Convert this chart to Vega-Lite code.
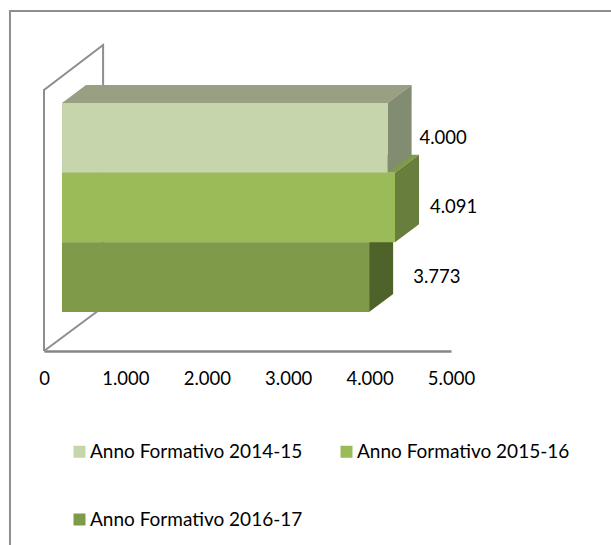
{
  "$schema": "https://vega.github.io/schema/vega-lite/v6.json",
  "width": 407,
  "height": 306,
  "autosize": {"type": "none"},
  "padding": {"left": 44, "top": 45, "right": 160, "bottom": 194},
  "background": "white",
  "config": {"view": {"stroke": null}, "font": "Lato"},
  "datasets": {
    "bars": [
      {"series": "Anno Formativo 2014-15", "value": 4000, "level": 2},
      {"series": "Anno Formativo 2015-16", "value": 4091, "level": 1},
      {"series": "Anno Formativo 2016-17", "value": 3773, "level": 0}
    ],
    "frame": [
      {"part": "wall", "i": 0, "fx": 0, "fy": -0.56},
      {"part": "wall", "i": 1, "fx": 0, "fy": 3.186},
      {"part": "wall", "i": 2, "fx": 726, "fy": 3.832},
      {"part": "wall", "i": 3, "fx": 726, "fy": 0.072},
      {"part": "wall", "i": 4, "fx": 0, "fy": -0.56},
      {"part": "border", "i": 0, "fx": 6974, "fy": 4.32},
      {"part": "border", "i": 1, "fx": -418, "fy": 4.32},
      {"part": "border", "i": 2, "fx": -418, "fy": -3.344}
    ]
  },
  "resolve": {"scale": {"color": "independent"}},
  "layer": [
    {
      "data": {"name": "frame"},
      "mark": {"type": "line", "color": "#8e8e8e", "strokeWidth": 2, "clip": false},
      "encoding": {
        "x": {"field": "fx", "type": "quantitative", "scale": {"domain": [0, 5000], "nice": false, "zero": false},
          "axis": {"values": [0, 1000, 2000, 3000, 4000, 5000], "title": null, "grid": false, "ticks": false, "domainColor": "#868686", "domainWidth": 2.5, "labelFontSize": 18.5, "labelColor": "#000000", "labelPadding": 18, "labelFont": "Lato", "labelFlush": false, "labelOverlap": false, "labelExpr": "replace(format(datum.value, ','), ',', '.')"}},
        "y": {"field": "fy", "type": "quantitative", "scale": {"domain": [-0.56, 3.832], "nice": false, "zero": false}, "axis": null},
        "detail": {"field": "part"},
        "order": {"field": "i"}
      }
    },
    {
      "data": {"name": "bars"},
      "transform": [
        {"calculate": "[0, 1]", "as": "t"},
        {"flatten": ["t"]},
        {"calculate": "221 + datum.t * 295", "as": "xa"},
        {"calculate": "datum.value + 221 + datum.t * 295", "as": "xb"},
        {"calculate": "datum.level + 1 + datum.t * 0.258", "as": "ya"}
      ],
      "mark": {"type": "area", "orient": "horizontal", "opacity": 1},
      "encoding": {
        "y": {"field": "ya", "type": "quantitative", "axis": null},
        "x": {"field": "xa", "type": "quantitative", "stack": false},
        "x2": {"field": "xb"},
        "color": {"field": "series", "type": "nominal", "legend": null, "scale": {"range": ["#989f82", "#7f9a48", "#66803a"]}}
      }
    },
    {
      "data": {"name": "bars"},
      "transform": [
        {"calculate": "[0, 1]", "as": "t"},
        {"flatten": ["t"]},
        {"calculate": "datum.value + 221 + datum.t * 295", "as": "xs"},
        {"calculate": "datum.level + datum.t * 0.258", "as": "ys"},
        {"calculate": "datum.level + 1 + datum.t * 0.258", "as": "ye"}
      ],
      "mark": {"type": "area", "orient": "vertical", "opacity": 1},
      "encoding": {
        "x": {"field": "xs", "type": "quantitative"},
        "y": {"field": "ys", "type": "quantitative", "stack": false, "axis": null},
        "y2": {"field": "ye"},
        "color": {"field": "series", "type": "nominal", "legend": null, "scale": {"range": ["#818c71", "#687e3c", "#4f6229"]}}
      }
    },
    {
      "data": {"name": "bars"},
      "transform": [
        {"calculate": "221", "as": "x0"},
        {"calculate": "datum.value + 221", "as": "x1"},
        {"calculate": "datum.level + 1", "as": "y1"}
      ],
      "mark": {"type": "rect"},
      "encoding": {
        "x": {"field": "x0", "type": "quantitative"},
        "x2": {"field": "x1"},
        "y": {"field": "level", "type": "quantitative", "axis": null},
        "y2": {"field": "y1"},
        "color": {"field": "series", "type": "nominal",
          "scale": {"domain": ["Anno Formativo 2014-15", "Anno Formativo 2016-17", "Anno Formativo 2015-16"], "range": ["#c6d5ab", "#7f9a48", "#9bbb59"]},
          "legend": {"orient": "none", "legendX": 26, "legendY": 397, "title": null, "columns": 2, "columnPadding": 34, "rowPadding": 48, "symbolType": "square", "symbolSize": 144, "symbolStrokeWidth": 0, "symbolOpacity": 1, "labelFontSize": 19, "labelColor": "#000000", "labelFont": "Lato", "labelOffset": 1, "labelLimit": 300}}
      }
    },
    {
      "data": {"name": "bars"},
      "transform": [
        {"calculate": "datum.value + 221 + [833, 720, 682][datum.level]", "as": "lx"},
        {"calculate": "datum.level + 0.5", "as": "ly"},
        {"calculate": "replace(format(datum.value, ','), ',', '.')", "as": "label"}
      ],
      "mark": {"type": "text", "fontSize": 18.5, "color": "#000000", "font": "Lato", "align": "center", "baseline": "middle"},
      "encoding": {
        "x": {"field": "lx", "type": "quantitative"},
        "y": {"field": "ly", "type": "quantitative", "axis": null},
        "text": {"field": "label", "type": "nominal"}
      }
    }
  ]
}
